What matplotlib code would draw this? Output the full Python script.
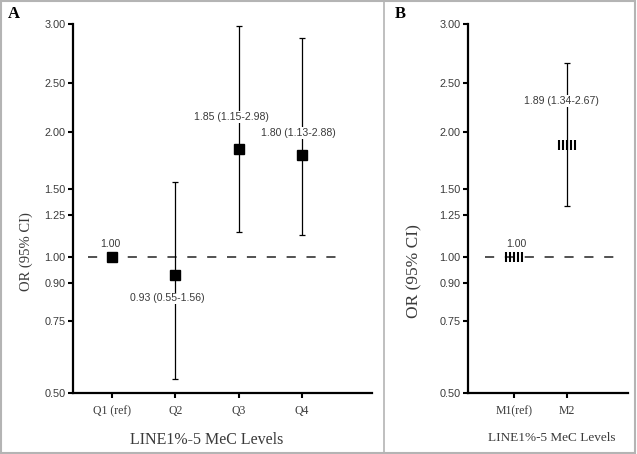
import numpy as np
import matplotlib
matplotlib.use('Agg')
import matplotlib.pyplot as plt
from matplotlib.path import Path
from matplotlib.patches import Rectangle
from matplotlib.lines import Line2D
from matplotlib.ticker import NullLocator

plt.rcParams['font.family'] = ['Liberation Serif', 'DejaVu Serif']

# panel A: quartiles
quartiles = ['Q1 (ref)', 'Q2', 'Q3', 'Q4']
or_q = [1.00, 0.93, 1.85, 1.80]
lo_q = [1.00, 0.55, 1.15, 1.13]
hi_q = [1.00, 1.56, 2.98, 2.88]
lab_q = ['1.00', '0.93 (0.55-1.56)', '1.85 (1.15-2.98)', '1.80 (1.13-2.88)']

# panel B: median split
medians = ['M1(ref)', 'M2']
or_m = [1.00, 1.89]
lo_m = [1.00, 1.34]
hi_m = [1.00, 2.67]
lab_m = ['1.00', '1.89 (1.34-2.67)']

ytick_vals = [0.50, 0.75, 0.90, 1.00, 1.25, 1.50, 2.00, 2.50, 3.00]
# the original axis is hand spaced (neither linear nor log)
ytick_pos = [0, 71.5, 109.5, 136, 177.5, 203.5, 260.5, 310, 368.5]


def fwd(v):
    return np.interp(v, ytick_vals, ytick_pos)


def inv(u):
    return np.interp(u, ytick_pos, ytick_vals)


TXT = '#3a3a3a'
SANS = ['Liberation Sans', 'DejaVu Sans']

fig = plt.figure(figsize=(6.37, 4.54), dpi=100)
axA = fig.add_axes([73/637, 1-393/454, 299/637, 369/454])
axB = fig.add_axes([468/637, 1-393/454, 160/637, 369/454])

for ax in (axA, axB):
    ax.set_yscale('function', functions=(fwd, inv))
    ax.set_ylim(0.5, 3.0)
    ax.set_yticks(ytick_vals)
    ax.set_yticklabels([f'{v:.2f}' for v in ytick_vals], family=SANS,
                       fontsize=7.8, color=TXT)
    ax.yaxis.set_minor_locator(NullLocator())
    ax.spines['top'].set_visible(False)
    ax.spines['right'].set_visible(False)
    ax.spines['left'].set_linewidth(1.6)
    ax.spines['bottom'].set_linewidth(1.6)
    ax.tick_params(axis='y', direction='out', length=3.5, width=1.5, pad=2)
    ax.tick_params(axis='x', direction='out', length=3.5, width=1.5, pad=5)


def draw_panel(ax, cats, ors, los, his, labels, offsets, marker, ms, mew, line_span):
    x = np.arange(len(cats))
    ors = np.array(ors)
    los = np.array(los)
    his = np.array(his)
    ax.axhline(1.0, xmin=line_span[0], xmax=line_span[1], color='#222222',
               lw=1.1, dashes=(6, 7), zorder=1)
    m = his > los
    ax.errorbar(x[m], ors[m], yerr=[ors[m] - los[m], his[m] - ors[m]],
                fmt='none', ecolor='black', elinewidth=0.9, capsize=2.5,
                capthick=0.9, zorder=2)
    ax.plot(x, ors, ls='none', marker=marker, ms=ms, color='black',
            mec='black', mew=mew, zorder=5)
    for xi, yi, t, off in zip(x, ors, labels, offsets):
        ax.annotate(t, (xi, yi), xytext=off, textcoords='offset pixels',
                    ha='center', va='center', fontsize=7.6, family=SANS,
                    color=TXT, zorder=4,
                    bbox=dict(fc='white', ec='none', pad=0.6))
    ax.set_xticks(x)
    ax.set_xticklabels(cats, fontsize=8.5, color=TXT)


draw_panel(axA, quartiles, or_q, lo_q, hi_q, lab_q,
           [(-2, 13), (-8, -23), (-7, 32), (-4, 22)], 's', 7.2, 1.0,
           (0.05, 0.903))
axA.set_xlim(-0.616, 4.107)

# vertical-line marker used in panel B
verts, codes = [], []
for xv in np.linspace(-1, 1, 5):
    verts += [(xv, -0.6), (xv, 0.6)]
    codes += [Path.MOVETO, Path.LINETO]
hatch_marker = Path(verts, codes)

draw_panel(axB, medians, or_m, lo_m, hi_m, lab_m,
           [(2, 13), (-6, 44)], hatch_marker, 11, 1.5, (0.106, 0.95))
axB.set_xlim(-0.868, 2.15)

axA.set_ylabel('OR (95% CI)', fontsize=10.5, color=TXT)
axA.yaxis.set_label_coords(-0.134, 0.382)
axA.set_xlabel('LINE1%-5 MeC Levels', fontsize=11.5, color=TXT, va='top')
axA.xaxis.set_label_coords(0.448, -0.1057)

axB.set_ylabel('OR (95% CI)', fontsize=12.5, color=TXT)
axB.yaxis.set_label_coords(-0.2875, 0.33)
axB.set_xlabel('LINE1%-5 MeC Levels', fontsize=9.5, color=TXT, va='top')
axB.xaxis.set_label_coords(0.525, -0.1057)

fig.text(8/637, 1-14/454, 'A', fontsize=12, fontweight='bold', va='center')
fig.text(395/637, 1-14/454, 'B', fontsize=12, fontweight='bold', va='center')

fig.add_artist(Rectangle((0.002, 0.003), 0.995, 0.994, transform=fig.transFigure,
                         fill=False, ec='#b4b4b4', lw=1.5))
fig.add_artist(Line2D([384/637, 384/637], [0.003, 0.997], transform=fig.transFigure,
                      color='#b4b4b4', lw=1.2))

fig.savefig('out.png', dpi=100)
